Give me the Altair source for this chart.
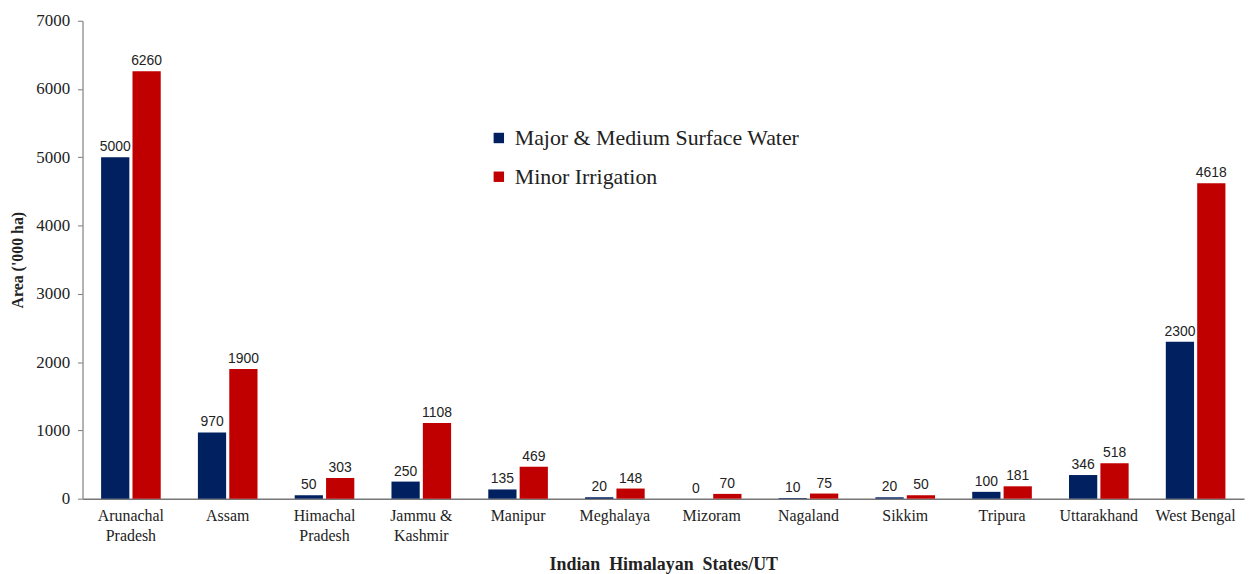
import altair as alt
import pandas as pd

states = ["Arunachal|Pradesh", "Assam", "Himachal|Pradesh", "Jammu &|Kashmir", "Manipur",
          "Meghalaya", "Mizoram", "Nagaland", "Sikkim", "Tripura", "Uttarakhand", "West Bengal"]
major = [5000, 970, 50, 250, 135, 20, 0, 10, 20, 100, 346, 2300]
minor = [6260, 1900, 303, 1108, 469, 148, 70, 75, 50, 181, 518, 4618]
series = ["Major & Medium Surface Water", "Minor Irrigation"]
colors = ["#002060", "#C00000"]

rows = []
for s, a, b in zip(states, major, minor):
    rows.append({"state": s, "series": series[0], "value": a})
    rows.append({"state": s, "series": series[1], "value": b})
df = pd.DataFrame(rows)

serif = "Liberation Serif"

x = alt.X("state:N", sort=states,
          scale=alt.Scale(paddingInner=0.384, paddingOuter=0.192),
          axis=alt.Axis(title="Indian\u00a0\u00a0Himalayan\u00a0\u00a0States/UT", labelAngle=0,
                        labelExpr="split(datum.value, '|')",
                        labelFont=serif, labelFontSize=16, labelColor="#222",
                        labelLineHeight=20, labelPadding=9, labelLimit=0,
                        titleFont=serif, titleFontSize=18, titleFontWeight="bold",
                        titleColor="#222", titlePadding=12,
                        ticks=False, domainColor="#777", domainWidth=1.5))
y = alt.Y("value:Q", scale=alt.Scale(domain=[0, 7000]),
          axis=alt.Axis(title="Area ('000 ha)", values=list(range(0, 7001, 1000)),
                        format="d", grid=False, labelFont=serif, labelFontSize=17,
                        labelColor="#222", tickColor="#777", tickSize=5, labelPadding=8,
                        domainColor="#999", domainWidth=1.5,
                        titleFont=serif, titleFontSize=16, titleFontWeight="bold",
                        titleColor="#222", titlePadding=10))
xo = alt.XOffset("series:N", sort=series, scale=alt.Scale(paddingInner=0.1))

base = alt.Chart(df).encode(x=x, xOffset=xo)

bars = base.mark_bar().encode(
    y=y,
    color=alt.Color("series:N", sort=series,
                    scale=alt.Scale(domain=series, range=colors),
                    legend=alt.Legend(title=None, orient="none", legendX=408, legendY=107,
                                      labelFont=serif, labelFontSize=22, labelColor="#222",
                                      labelLimit=0,
                                      symbolType="square", symbolSize=110,
                                      symbolStrokeWidth=0, rowPadding=17, labelOffset=5)),
)

labels = base.mark_text(dy=-10, font="Liberation Sans", fontSize=14, color="#222").encode(
    y="value:Q", text="value:Q")

chart = (bars + labels).properties(
    width=1169, height=481,
    autosize=alt.AutoSizeParams(type="none"),
    padding={"left": 75, "top": 11, "right": 2, "bottom": 74},
).configure_view(stroke=None)

chart.save("out.html", embed_options={"renderer": "svg", "actions": False})
